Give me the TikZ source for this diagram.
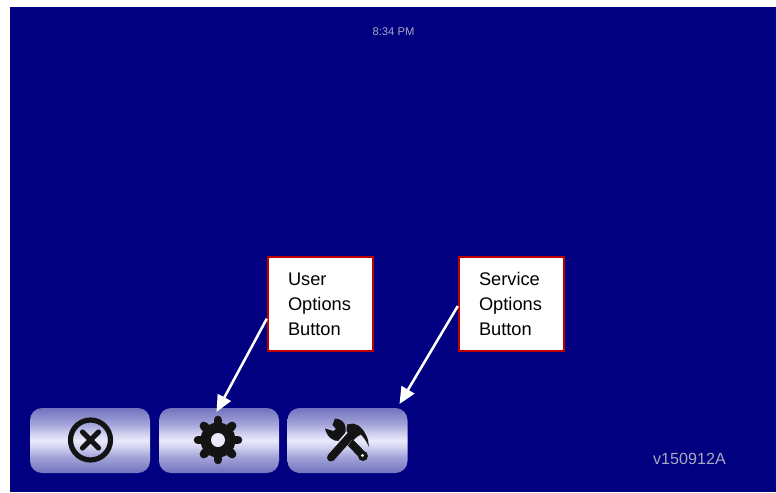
\documentclass[tikz,border=0pt]{standalone}
\usepackage{fontspec}
\setmainfont{Liberation Sans}
\usetikzlibrary{arrows.meta}
\definecolor{screen}{HTML}{000080}
\definecolor{btnedge}{HTML}{7272BE}
\definecolor{btnq}{HTML}{A4A4DA}
\definecolor{btnn}{HTML}{D2D2F0}
\definecolor{btnmid}{HTML}{EAEAFB}
\definecolor{iconc}{HTML}{141414}
\definecolor{softtext}{HTML}{A8A8C0}
\definecolor{boxred}{HTML}{C00000}
\pgfdeclareverticalshading{btnshade}{100bp}{color(0bp)=(btnedge); color(25bp)=(btnedge); color(37.5bp)=(btnq); color(45bp)=(btnn); color(50bp)=(btnmid); color(55bp)=(btnn); color(62.5bp)=(btnq); color(75bp)=(btnedge); color(100bp)=(btnedge)}
\tikzset{
  x=0.75pt,y=-0.75pt,
  panelbtn/.style={minimum width=90pt,minimum height=48.75pt,inner sep=0pt,rounded corners=9pt,shading=btnshade},
  callout/.style={draw=boxred,line width=1.5pt,fill=white,minimum width=79pt,minimum height=70.5pt,
    inner sep=0pt,text=black,font=\fontsize{13.7pt}{18.75pt}\selectfont,align=left,text width=48.75pt},
  pointer/.style={draw=white,line width=1.9pt,-{Triangle[length=12.5pt,width=11pt,fill=white]}},
  softlabel/.style={text=softtext,inner sep=0pt}
}
\begin{document}
\begin{tikzpicture}
\useasboundingbox (0,0) rectangle (776,493);
\fill[white] (0,0) rectangle (776,493);
\fill[screen] (10,7) rectangle (776,492);

\node[softlabel,font=\fontsize{8.4pt}{10pt}\selectfont] (clock) at (393.5,31.5) {8:34 PM};
\node[softlabel,font=\fontsize{12.1pt}{14pt}\selectfont] (version) at (689.5,459) {v150912A};

\node[panelbtn] (close) at (90,440.5) {};
\node[panelbtn] (user) at (219,440.5) {};
\node[panelbtn] (service) at (347.5,440.5) {};

% close icon
\draw[iconc,line width=3.9pt] (90.5,440) circle (20);
\draw[iconc,line width=3.9pt,line cap=round] (82.5,432) -- (98.5,448) (98.5,432) -- (82.5,448);

% gear icon
\foreach \a in {0,45,...,315}
  \draw[iconc,line width=6.4pt,line cap=round] (218,440) -- ++(\a:20);
\fill[iconc] (218,440) circle (17.5);
\fill[btnmid] (218,440) circle (7);

% tools icon: wrench
\fill[iconc] (325,428.5) -- (333.5,431) -- (336,429) -- (332.5,425) -- (335,418.5)
  .. controls (340,418.5) and (345,422) .. (345.5,427)
  .. controls (346,431) and (345.5,433) .. (345,435)
  -- (349,440) -- (343,445) -- (339,441)
  .. controls (333,441.5) and (327,437) .. (325,428.5) -- cycle;
\draw[iconc,line width=6pt,line cap=butt] (345,437) -- (362,454.5);
\fill[iconc] (363,456) circle (5);
\fill[btnmid] (362.5,455.5) circle (1.6);
% tools icon: hammer
\draw[btnmid,line width=7.4pt] (338,449) -- (350,435);
\draw[iconc,line width=6pt,line cap=round] (331,457.5) -- (352,434);
\fill[iconc] (346.5,431) -- (347,424.5) -- (353,423.5)
  .. controls (360,424.5) and (365,431) .. (368,440)
  -- (369,447)
  .. controls (367,442) and (364,438) .. (361,434.5)
  -- (358,436) -- (353,440.5) -- cycle;

% callouts
\node[callout] (userbox) at (320.5,304) {User\\Options\\Button};
\node[callout] (servicebox) at (511.5,304) {Service\\Options\\Button};

\coordinate (usertip) at (216.5,412);
\coordinate (servicetip) at (399.5,404);
\draw[pointer] ([yshift=-11pt]userbox.west) -- (usertip);
\draw[pointer] ([yshift=-1.5pt]servicebox.west) -- (servicetip);
\end{tikzpicture}
\end{document}
